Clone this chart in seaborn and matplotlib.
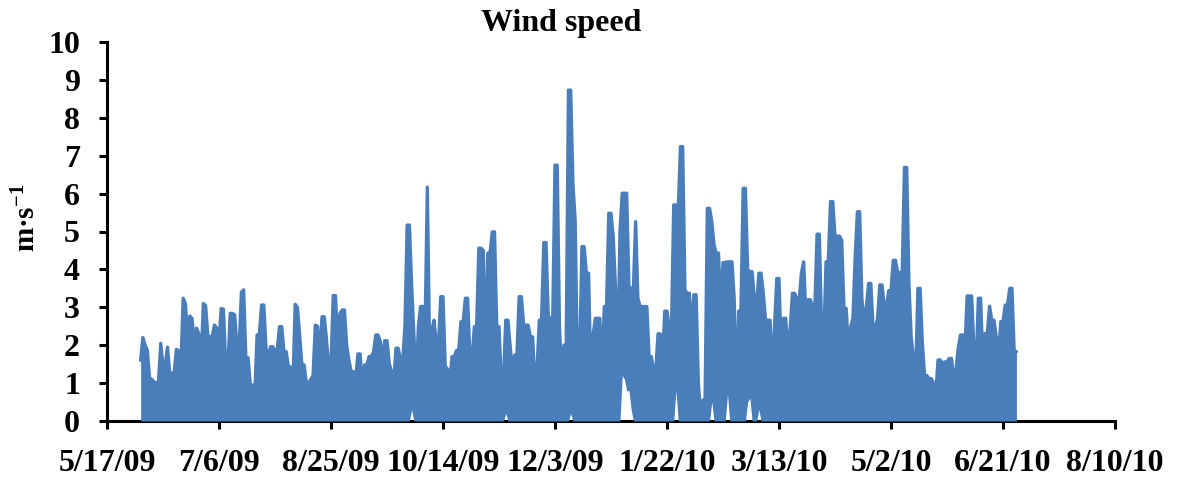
import matplotlib
matplotlib.use("Agg")
import matplotlib.pyplot as plt
import numpy as np
import pandas as pd
import seaborn as sns

# Daily peak wind speed (m/s), one value per day starting on first_day
first_day = "2009-06-01"
daily_peak = [
    1.6, 2.2, 2.0, 1.87, 1.13, 1.1, 1.03, 1.0, 1.05, 2.05,
    1.43, 1.5, 1.95, 1.27, 1.25, 1.3, 1.89, 1.85, 1.48, 3.24,
    3.1, 2.22, 2.77, 2.7, 1.99, 2.45, 2.3, 1.53, 3.1, 3.05,
    2.27, 2.2, 2.25, 2.53, 2.45, 2.13, 2.97, 2.95, 1.43, 1.45,
    2.84, 2.84, 2.8, 1.99, 1.95, 3.4, 3.46, 1.67, 1.67, 0.95,
    0.95, 0.77, 2.27, 2.27, 3.06, 3.06, 1.92, 1.7, 1.96, 1.96,
    1.87, 1.87, 2.49, 2.49, 1.83, 1.83, 1.43, 1.43, 0.95, 3.08,
    3.0, 2.27, 1.48, 1.48, 1.0, 1.0, 1.1, 1.2, 2.53, 2.5,
    1.7, 2.75, 2.75, 2.14, 1.43, 1.5, 3.31, 3.31, 2.05, 2.84,
    2.93, 2.93, 2.0, 1.6, 1.3, 1.3, 1.1, 1.77, 1.77, 0.9,
    1.48, 1.48, 1.7, 1.7, 1.83, 2.27, 2.27, 2.1, 1.6, 2.12,
    2.12, 1.52, 1.3, 1.04, 1.92, 1.92, 1.6, 1.6, 2.49, 5.17,
    5.17, 3.59, 2.3, 1.0, 2.49, 3.02, 3.02, 2.4, 6.17, 1.96,
    2.4, 2.66, 2.05, 2.05, 3.28, 3.28, 1.44, 1.37, 1.0, 1.7,
    1.7, 1.86, 1.86, 2.62, 2.62, 3.24, 3.24, 1.7, 1.7, 2.49,
    2.49, 4.56, 4.56, 4.5, 1.6, 4.43, 4.43, 4.99, 4.99, 2.49,
    2.49, 1.08, 1.08, 2.66, 2.66, 1.96, 1.35, 1.74, 1.74, 3.28,
    3.28, 2.53, 2.53, 2.53, 2.22, 2.22, 1.04, 1.4, 2.66, 2.66,
    4.71, 4.71, 2.73, 2.73, 2.73, 6.75, 6.75, 2.49, 1.2, 2.0,
    2.0, 8.73, 8.73, 6.27, 5.3, 1.52, 1.52, 4.6, 4.6, 3.9,
    3.9, 1.16, 2.27, 2.71, 2.71, 2.71, 1.35, 3.02, 3.02, 5.48,
    5.48, 4.86, 3.54, 1.44, 4.99, 6.01, 6.01, 6.01, 3.54, 3.5,
    3.5, 5.26, 3.24, 3.02, 3.02, 3.02, 3.02, 1.7, 1.7, 1.35,
    1.35, 2.3, 2.3, 1.6, 2.9, 2.9, 2.45, 2.45, 5.7, 5.7,
    5.52, 7.24, 7.24, 3.46, 3.37, 3.37, 2.3, 3.33, 3.33, 1.0,
    0.2, 0.55, 0.55, 5.61, 5.61, 5.26, 4.64, 4.43, 4.43, 2.84,
    4.18, 4.18, 4.2, 4.2, 4.2, 3.24, 0.64, 2.9, 2.9, 6.14,
    6.14, 4.0, 3.94, 3.94, 3.24, 3.02, 3.9, 3.9, 3.37, 2.66,
    2.66, 2.66, 1.25, 2.49, 3.76, 3.76, 1.78, 2.71, 2.71, 1.83,
    2.45, 3.37, 3.37, 3.2, 3.2, 3.9, 4.2, 2.84, 3.2, 3.2,
    3.02, 3.02, 4.93, 4.93, 2.49, 2.14, 4.2, 4.2, 5.79, 5.79,
    4.88, 4.88, 4.88, 4.77, 2.97, 2.97, 1.87, 2.49, 2.71, 4.33,
    5.52, 5.52, 3.24, 2.53, 3.02, 3.63, 3.63, 2.45, 2.45, 2.71,
    3.59, 3.59, 3.02, 3.02, 3.44, 3.44, 4.24, 4.24, 3.92, 3.92,
    3.92, 6.69, 6.69, 3.63, 2.22, 1.7, 1.16, 3.5, 3.5, 2.05,
    1.2, 1.2, 1.12, 1.12, 1.0, 0.73, 1.61, 1.61, 1.52, 1.56,
    1.56, 1.65, 1.65, 1.12, 1.35, 1.92, 2.27, 2.27, 1.92, 3.3,
    3.3, 3.3, 1.92, 1.48, 3.24, 3.24, 1.61, 2.31, 2.31, 3.03,
    2.66, 2.66, 2.22, 1.7, 2.62, 2.62, 3.06, 3.06, 3.5, 3.5,
    1.83, 1.83,
]

# Days whose lowest reading stayed above calm (all other days reach 0)
floor_dates = [
    "2009-09-30", "2009-11-11", "2009-12-10",
    "2010-01-02", "2010-01-03", "2010-01-04", "2010-01-05", "2010-01-06",
    "2010-01-26", "2010-02-11", "2010-02-18", "2010-02-27", "2010-02-28",
    "2010-03-04",
]
floor_values = [
    0.3, 0.2, 0.2,
    1.2, 1.1, 0.8, 0.8, 0.3,
    0.8, 0.5, 0.7, 0.5, 0.6,
    0.3,
]

x_tick_labels = ["5/17/09", "7/6/09", "8/25/09", "10/14/09", "12/3/09",
                 "1/22/10", "3/13/10", "5/2/10", "6/21/10", "8/10/10"]
y_ticks = [0, 1, 2, 3, 4, 5, 6, 7, 8, 9, 10]

days = pd.date_range(first_day, periods=len(daily_peak), freq="D")
wind = pd.DataFrame({"date": days, "speed": daily_peak})
floor = (pd.Series(floor_values, index=pd.to_datetime(floor_dates))
         .reindex(days, fill_value=0.0))
tick_dates = pd.to_datetime(x_tick_labels, format="%m/%d/%y")

sns.set_theme(style="ticks", rc={
    "axes.edgecolor": "black",
    "xtick.color": "black",
    "ytick.color": "black",
    "text.color": "black",
    "axes.labelcolor": "black",
})
plt.rcParams["font.family"] = ["Liberation Serif", "DejaVu Serif"]
plt.rcParams["mathtext.fontset"] = "custom"
plt.rcParams["mathtext.rm"] = "Liberation Serif:bold"
plt.rcParams["mathtext.it"] = "Liberation Serif:bold"
plt.rcParams["mathtext.bf"] = "Liberation Serif:bold"

W, H = 1180, 483
fig = plt.figure(figsize=(W / 100, H / 100), dpi=100)
ax = fig.add_axes([107 / W, 62 / H, 1008 / W, 379 / H])

# Dense record: area between the daily floor and the daily peak, outlined
blue = "#4A7EBB"
ax.fill_between(days, floor.values, wind["speed"].values,
                color=blue, linewidth=0, zorder=3)
sns.lineplot(data=wind, x="date", y="speed", ax=ax, color=blue,
             linewidth=2.4, zorder=3.1, solid_joinstyle="round",
             solid_capstyle="round")

ax.set_xlim(tick_dates[0], tick_dates[-1])
ax.set_ylim(0, 10)
ax.set_xticks(tick_dates, x_tick_labels, fontsize=23, fontweight="bold")
ax.set_yticks(y_ticks, [str(v) for v in y_ticks], fontsize=23,
              fontweight="bold")
ax.tick_params(axis="both", direction="out", length=6, width=2.2,
               left=True, bottom=True)
ax.tick_params(axis="x", pad=14)
ax.tick_params(axis="y", pad=13.5)

sns.despine(ax=ax)
for side in ("left", "bottom"):
    ax.spines[side].set_linewidth(2.2)

ax.set_xlabel("")
ax.set_ylabel("m\u00b7s$^{-1}$", fontsize=21, fontweight="bold")
ax.yaxis.set_label_coords(-0.065, 0.536)

fig.text(561 / W, 1 - 23 / H, "Wind speed", ha="center", va="center",
         fontsize=23, fontweight="bold")

fig.savefig("out.png", dpi=100)
